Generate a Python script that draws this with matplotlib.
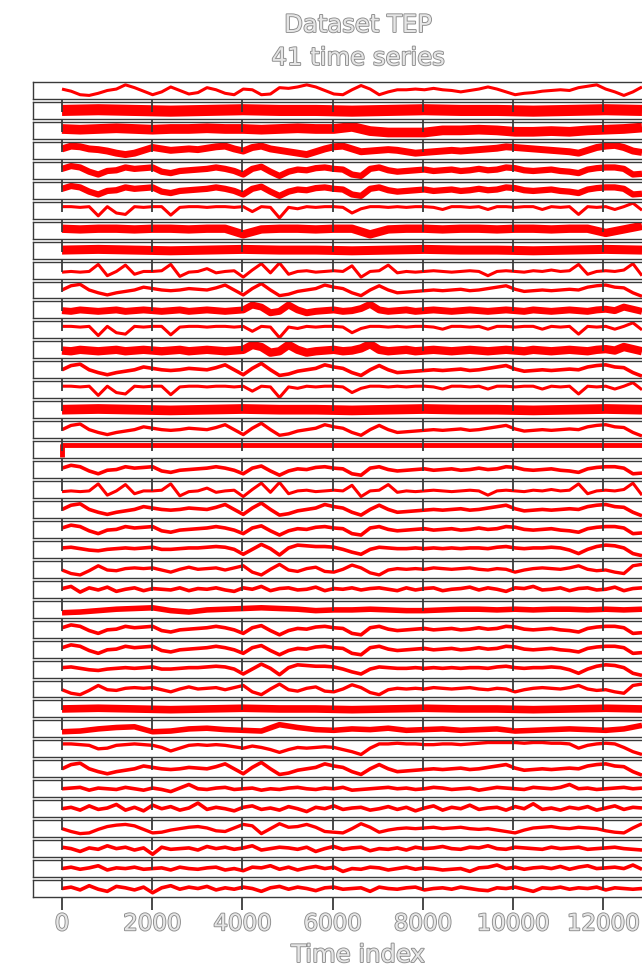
import numpy as np
import matplotlib
matplotlib.use("Agg")
import matplotlib.pyplot as plt
import matplotlib.patheffects as pe

# ---- data (values scaled 0..1 inside each strip) ----
n_steps = 12860  # last time index

wave_a = [.6, .45, .2, .15, .3, .5, .6, .9, .7, .45, .2, .4, .75, .5, .25, .35, .7, .55, .3, .2, .6, .55,
          .2, .25, .7, .65, .75, .9, .75, .5, .25, .2, .55, .85, .6, .2, .4, .55, .55, .6, .55, .65, .55,
          .5, .4, .5, .6, .75, .6, .4, .2, .3, .35, .45, .5, .55, .5, .7, .8, .9, .6, .4, .15, .4, .75]
wave_b = [.5, .3, .15, .2, .45, .65, .75, .8, .7, .45, .2, .25, .4, .5, .6, .65, .55, .35, .3, .55, .8, .7,
          .15, .5, .85, .6, .65, .8, .6, .3, .25, .2, .5, .85, .6, .25, .4, .5, .55, .5, .55, .6, .5, .55,
          .6, .5, .45, .5, .4, .3, .2, .4, .55, .6, .65, .55, .5, .6, .55, .5, .35, .25, .2, .55, .85]
wave_h = [.45, .2, .1, .4, .75, .45, .4, .55, .6, .55, .6, .45, .3, .5, .65, .5, .55, .6, .45, .6, .75, .3,
          .1, .5, .85, .45, .35, .55, .65, .35, .3, .5, .8, .6, .25, .1, .45, .55, .5, .55, .5, .6, .55,
          .5, .55, .6, .5, .45, .55, .5, .3, .45, .55, .6, .55, .5, .6, .75, .5, .4, .45, .3, .2, .75, .85]
wave_f = [.5, .8, .9, .5, .3, .15, .3, .4, .5, .7, .6, .5, .45, .5, .6, .55, .5, .65, .85, .5, .15, .6,
          .95, .5, .1, .2, .4, .5, .6, .85, .7, .6, .3, .1, .5, .8, .5, .3, .35, .4, .45, .5, .45, .5,
          .55, .45, .5, .6, .7, .8, .55, .4, .45, .5, .45, .5, .55, .5, .7, .8, .85, .7, .65, .3, .05]
trend_c = [.6, .8, .7, .4, .2, .45, .5, .7, .6, .65, .7, .4, .3, .45, .5, .55, .6, .7, .6, .45, .2, .6,
           .75, .4, .1, .4, .55, .5, .65, .7, .6, .55, .2, .1, .6, .7, .5, .4, .45, .5, .55, .45, .5,
           .55, .45, .5, .6, .5, .55, .7, .65, .5, .45, .5, .55, .45, .4, .3, .55, .65, .7, .7, .6, .2, .25]
trend_g = [.6, .65, .55, .45, .4, .5, .55, .6, .55, .6, .65, .5, .5, .55, .6, .6, .65, .7, .65, .5, .15,
           .5, .85, .55, .1, .6, .8, .75, .7, .7, .65, .5, .3, .15, .5, .65, .6, .55, .55, .6, .55, .6,
           .55, .6, .55, .6, .6, .55, .65, .7, .6, .55, .6, .6, .65, .6, .45, .2, .5, .7, .8, .75, .6, .2, .05]
trend_i = [.85, .85, .8, .75, .5, .55, .75, .8, .85, .8, .75, .6, .35, .55, .75, .8, .75, .8, .75, .65,
           .55, .7, .6, .45, .25, .45, .6, .55, .6, .65, .6, .45, .3, .1, .55, .85, .85, .9, .85, .85, .8,
           .8, .85, .85, .8, .85, .9, .95, .95, .95, .95, .9, .95, .95, .9, .9, .85, .55, .75, .85, .9,
           .85, .6, .3, .1]
spike_d = [.75, .75, .7, .75, .1, .75, .3, .2, .75, .7, .75, .75, .15, .7, .75, .75, .7, .75, .75, .7,
           .75, .4, .75, .7, -.05, .7, .6, .75, .7, .75, .75, .7, .3, .6, .75, .75, .7, .75, .7, .75, .75,
           .7, .55, .75, .75, .7, .75, .55, .75, .75, .7, .75, .75, .55, .75, .7, .75, .2, .75, .7, .75,
           .55, .75, 1.0, .5]
spike_e = [.35, .4, .35, .4, .9, .1, .4, .85, .2, .4, .4, .45, .9, .05, .35, .4, .6, .3, .4, .45, .0, .5,
           .95, .3, 1.0, .2, .4, .45, .35, .4, .45, .4, .8, .0, .4, .45, .85, .3, .4, .35, .4, .45, .4,
           .35, .4, .45, .4, .1, .4, .45, .4, .35, .45, .4, .5, .4, .45, .9, .2, .4, .45, .4, .5, .95, .1]
trend_4 = [.6, .8, .75, .6, .55, .45, .3, .2, .3, .5, .7, .6, .5, .55, .6, .55, .65, .75, .8, .6, .45,
           .7, .8, .6, .5, .4, .3, .2, .4, .6, .75, .8, .6, .4, .45, .5, .55, .5, .4, .3, .35, .4, .45,
           .5, .45, .5, .55, .6, .65, .75, .7, .65, .6, .55, .5, .45, .4, .3, .5, .7, .8, .85, .7, .45, .35]
trend_j = [.45, .4, .5, .45, .4, .45, .5, .4, .45, .5, .45, .4, .45, .5, .4, .45, .5, .45, .4, .45, .5,
           .85, .7, .3, .4, .85, .5, .3, .4, .45, .5, .4, .45, .6, .9, .5, .4, .45, .5, .4, .45, .5, .45,
           .4, .45, .5, .45, .4, .45, .5, .45, .4, .5, .45, .4, .45, .5, .45, .4, .5, .55, .45, .7, .55, .4]
trend_3 = [.6, .55, .6, .65, .6, .55, .6, .6, .65, .6, .6, .55, .6, .65, .6, .6, .75, .45, .35, .35,
           .35, .5, .5, .55, .5, .4, .4, .45, .4, .5, .55, .6, .7]
trend_8 = [.6, .55, .6, .6, .55, .6, .6, .55, .6, .6, .2, .55, .6, .6, .55, .6, .6, .2, .55, .6, .6, .55,
           .6, .6, .55, .6, .6, .55, .6, .6, .3, .55, .8]
trend_27 = [.25, .3, .4, .5, .55, .6, .4, .3, .45, .5, .55, .6, .55, .5, .4, .45, .45, .5, .45, .4, .4,
            .45, .5, .5, .45, .5, .45, .5, .5, .45, .5, .45, .5]
trend_33 = [.3, .35, .5, .6, .65, .3, .35, .5, .55, .45, .4, .35, .8, .6, .45, .4, .5, .45, .55, .4, .45,
            .5, .4, .45, .5, .35, .4, .45, .5, .45, .4, .5, .75]
band_flat = [.5, .55, .5, .45, .5, .55, .5, .5, .45, .5, .55, .5, .5, .45, .5, .55, .5]
flat_step = [.0, .85, .85, .8, .85, .85, .85, .8, .85, .85, .85, .85, .8, .85, .85, .85, .85]
zig_26 = [.55, .7, .3, .6, .45, .65, .35, .5, .6, .4, .55, .5, .45, .6, .4, .55, .5, .6, .45, .35, .6, .5,
          .7, .4, .55, .6, .45, .5, .65, .4, .55, .5, .6, .45, .55, .6, .5, .4, .6, .45, .55, .6, .4, .5,
          .55, .65, .45, .6, .5, .35, .6, .55, .7, .45, .5, .6, .4, .55, .6, .45, .5, .65, .4, .55, .6]
zig_36 = [.5, .55, .6, .4, .55, .5, .45, .6, .5, .4, .55, .45, .3, .55, .8, .5, .45, .55, .6, .45, .5, .55,
          .4, .5, .45, .55, .6, .5, .45, .55, .5, .6, .4, .45, .5, .55, .6, .5, .55, .45, .5, .6, .55, .45,
          .5, .55, .4, .5, .6, .55, .5, .45, .6, .55, .5, .6, .8, .5, .55, .45, .5, .55, .6, .5, .55]
zig_37 = [.5, .6, .4, .7, .45, .55, .8, .4, .6, .35, .75, .5, .65, .4, .55, .9, .45, .6, .5, .35, .6, .7,
          .45, .55, .4, .65, .5, .3, .6, .5, .7, .45, .55, .6, .4, .5, .65, .45, .6, .35, .55, .7, .4, .6,
          .5, .75, .45, .55, .6, .4, .65, .5, .85, .45, .55, .4, .6, .5, .65, .4, .55, .7, .45, .6, .55]
zig_39 = [.6, .5, .3, .55, .45, .7, .5, .6, .4, .55, .1, .6, .45, .5, .55, .4, .65, .5, .6, .45, .55, .7,
          .4, .5, .6, .55, .45, .6, .3, .5, .65, .45, .55, .6, .35, .5, .45, .55, .4, .6, .5, .55, .65, .5,
          .45, .6, .55, .7, .5, .45, .6, .55, .5, .45, .6, .5, .55, .6, .45, .5, .55, .6, .5, .45, .4]
zig_40 = [.5, .6, .45, .55, .7, .4, .55, .5, .6, .45, .5, .55, .4, .6, .5, .45, .55, .6, .4, .5, .35, .6,
          .55, .7, .45, .6, .4, .55, .65, .5, .6, .3, .5, .45, .6, .55, .4, .5, .6, .45, .55, .5, .4, .45,
          .5, .3, .55, .6, .75, .5, .6, .45, .55, .6, .5, .65, .45, .6, .7, .5, .55, .6, .5, .75, .45]
zig_41 = [.5, .6, .4, .7, .45, .3, .65, .55, .4, .6, .2, .55, .7, .45, .6, .5, .65, .4, .55, .45, .6, .5,
          .3, .55, .65, .45, .6, .5, .35, .55, .6, .45, .5, .55, .3, .6, .5, .45, .55, .6, .4, .5, .55,
          .45, .6, .5, .4, .35, .55, .5, .6, .45, .3, .55, .5, .6, .45, .55, .5, .6, .4, .55, .5, .45, .5]

series = [wave_a, band_flat, trend_3, trend_4, trend_c, trend_c, spike_d, trend_8, band_flat, spike_e,
          wave_f, trend_j, spike_d, trend_j, wave_f, spike_d, band_flat, wave_f, flat_step, trend_c,
          spike_e, wave_f, trend_c, trend_g, wave_h, zig_26, trend_27, trend_c, trend_c, trend_g,
          wave_h, band_flat, trend_33, trend_i, wave_f, zig_36, zig_37, wave_b, zig_39, zig_40, zig_41]

# line widths per strip (noisy strips are drawn as thick bands)
widths = [2.2, 8, 7, 5, 4.5, 4.5, 2.2, 6, 6.5, 2.2,
          2.4, 5, 2.2, 6, 2.6, 2.2, 7, 2.4, 3.5, 2.6,
          2.2, 2.6, 2.6, 2.6, 2.4, 2.6, 4, 2.6, 2.6, 2.6,
          2.4, 5.5, 4, 2.4, 2.6, 2.6, 2.6, 2.4, 2.6, 2.6, 2.6]

ticks = [0, 2000, 4000, 6000, 8000, 10000, 12000]

# ---- layout ----
W, H = 642, 967
fig = plt.figure(figsize=(W / 100, H / 100), dpi=100)
fig.patch.set_facecolor("white")

txt_fx = [pe.Stroke(linewidth=1.3, foreground="#8c8c8c"), pe.Normal()]
txt_color = "#e6e6e6"

top0, bottom_last = 82, 900
pitch = (bottom_last - top0) / len(series)
box_h = pitch - 3.0
x_lo, x_hi = -643, 13503
left_px, right_px = 33, 671

axes = []
for i, vals in enumerate(series):
    top = top0 + i * pitch
    ax = fig.add_axes([left_px / W, 1 - (top + box_h) / H, (right_px - left_px) / W, box_h / H])
    ax.set_facecolor("none")
    ax.set_zorder(len(series) - i)
    x = np.linspace(0, n_steps, len(vals))
    ds = "steps-pre" if vals is flat_step else "default"
    ax.plot(x, vals, color="red", lw=widths[i], drawstyle=ds,
            solid_joinstyle="round", solid_capstyle="butt")
    ax.set_xlim(x_lo, x_hi)
    ax.set_ylim(-0.1, 1.1)
    ax.set_yticks([])
    ax.set_xticks(ticks)
    for s in ax.spines.values():
        s.set_color("#3a3a3a")
        s.set_linewidth(1.0)
    ax.tick_params(axis="x", direction="out", length=9, width=1.3, color="#3a3a3a",
                   labelbottom=(i == len(series) - 1), labelsize=16.5, labelcolor=txt_color, pad=2)
    axes.append(ax)

for lab in axes[-1].get_xticklabels():
    lab.set_path_effects(txt_fx)

fig.text(358 / W, 1 - 25 / H, "Dataset TEP", ha="center", va="center", fontsize=17.5,
         color=txt_color, path_effects=txt_fx)
fig.text(358 / W, 1 - 58 / H, "41 time series", ha="center", va="center", fontsize=17.5,
         color=txt_color, path_effects=txt_fx)
fig.text(358 / W, 1 - 955 / H, "Time index", ha="center", va="center", fontsize=17.5,
         color=txt_color, path_effects=txt_fx)

fig.savefig("out.png", dpi=100)
